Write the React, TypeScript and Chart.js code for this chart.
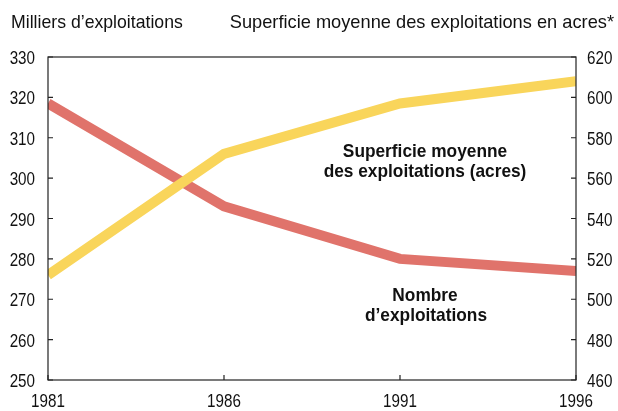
import React, { useEffect, useRef } from "react";
import { Chart, registerables } from "chart.js";

Chart.register(...registerables);

const years = ["1981", "1986", "1991", "1996"];
const farmsThousands = [318.5, 293, 280, 277];
const avgSizeAcres = [512, 572, 597, 608];
const leftTicks = [250, 260, 270, 280, 290, 300, 310, 320, 330];
const rightTicks = [460, 480, 500, 520, 540, 560, 580, 600, 620];
const leftTitle = "Milliers d\u2019exploitations";
const rightTitle = "Superficie moyenne des exploitations en acres*";
const sizeLabel = ["Superficie moyenne", "des exploitations (acres)"];
const countLabel = ["Nombre", "d\u2019exploitations"];

const FONT = "'Liberation Sans', Arial, sans-serif";
const RED = "#E0736B";
const YELLOW = "#F9D55B";
const INK = "#111";

function drawText(ctx: CanvasRenderingContext2D, text: string, x: number, y: number, align: "left" | "right" | "center", sx: number) {
  const w = ctx.measureText(text).width * sx;
  let left = x;
  if (align === "right") left = x - w;
  else if (align === "center") left = x - w / 2;
  ctx.save();
  ctx.translate(left, y);
  ctx.scale(sx, 1);
  ctx.textAlign = "left";
  ctx.fillText(text, 0, 0);
  ctx.restore();
}

export default function App() {
  const ref = useRef<HTMLCanvasElement | null>(null);
  useEffect(() => {
    document.body.style.margin = "0";
    const canvas = ref.current!;
    const framePlugin = {
      id: "frame",
      afterDraw(chart: any) {
        const { ctx, chartArea: a, scales } = chart;
        ctx.save();
        ctx.strokeStyle = "#222";
        ctx.lineWidth = 1.2;
        ctx.strokeRect(a.left, a.top, a.right - a.left, a.bottom - a.top);
        const tl = 5;
        ctx.beginPath();
        leftTicks.forEach((v) => {
          const y = scales.y.getPixelForValue(v);
          ctx.moveTo(a.left, y);
          ctx.lineTo(a.left + tl, y);
        });
        rightTicks.forEach((v) => {
          const y = scales.y1.getPixelForValue(v);
          ctx.moveTo(a.right, y);
          ctx.lineTo(a.right - tl, y);
        });
        years.forEach((_, i) => {
          const x = scales.x.getPixelForValue(i);
          ctx.moveTo(x, a.bottom);
          ctx.lineTo(x, a.bottom - tl);
        });
        ctx.stroke();

        ctx.fillStyle = INK;
        ctx.textBaseline = "alphabetic";
        ctx.font = `19px ${FONT}`;
        const digitSx = 0.8;
        leftTicks.forEach((v) => {
          const y = scales.y.getPixelForValue(v);
          drawText(ctx, String(v), a.left - 13, y + 7, "right", digitSx);
        });
        rightTicks.forEach((v) => {
          const y = scales.y1.getPixelForValue(v);
          drawText(ctx, String(v), a.right + 11, y + 7, "left", digitSx);
        });
        years.forEach((yr, i) => {
          const x = scales.x.getPixelForValue(i);
          drawText(ctx, yr, x, a.bottom + 27, "center", digitSx);
        });

        drawText(ctx, leftTitle, 11, 28, "left", 0.93);
        drawText(ctx, rightTitle, 614, 28, "right", 0.96);

        ctx.font = `bold 19px ${FONT}`;
        drawText(ctx, sizeLabel[0], 425, 157, "center", 0.91);
        drawText(ctx, sizeLabel[1], 425, 177, "center", 0.91);
        drawText(ctx, countLabel[0], 425, 301, "center", 0.91);
        drawText(ctx, countLabel[1], 426, 321, "center", 0.91);
        ctx.restore();
      },
    };
    const chart = new Chart(canvas, {
      type: "line",
      data: {
        labels: years,
        datasets: [
          {
            label: "Superficie moyenne",
            data: avgSizeAcres,
            yAxisID: "y1",
            borderColor: YELLOW,
            backgroundColor: YELLOW,
            borderWidth: 10,
            pointRadius: 0,
            tension: 0,
            clip: 0,
            order: 0,
          },
          {
            label: "Nombre d'exploitations",
            data: farmsThousands,
            yAxisID: "y",
            borderColor: RED,
            backgroundColor: RED,
            borderWidth: 10,
            pointRadius: 0,
            tension: 0,
            clip: 0,
            order: 1,
          },
        ],
      },
      options: {
        animation: false,
        responsive: false,
        devicePixelRatio: 1,
        layout: { padding: { top: 57, left: 0, right: 0, bottom: 0 } },
        plugins: { legend: { display: false }, tooltip: { enabled: false } },
        scales: {
          x: {
            type: "category",
            offset: false,
            grid: { display: false, drawTicks: false },
            border: { display: false },
            ticks: { display: false, autoSkip: false },
            afterFit: (s: any) => { s.height = 31; },
          },
          y: {
            position: "left",
            min: 250,
            max: 330,
            grid: { display: false, drawTicks: false },
            border: { display: false },
            ticks: { display: false, stepSize: 10 },
            afterFit: (s: any) => { s.width = 48; },
          },
          y1: {
            position: "right",
            min: 460,
            max: 620,
            grid: { display: false, drawTicks: false },
            border: { display: false },
            ticks: { display: false, stepSize: 20 },
            afterFit: (s: any) => { s.width = 42; },
          },
        },
      },
      plugins: [framePlugin],
    });
    return () => chart.destroy();
  }, []);
  return (
    <div style={{ width: 618, height: 411 }}>
      <canvas ref={ref} width={618} height={411} style={{ display: "block" }} />
    </div>
  );
}
